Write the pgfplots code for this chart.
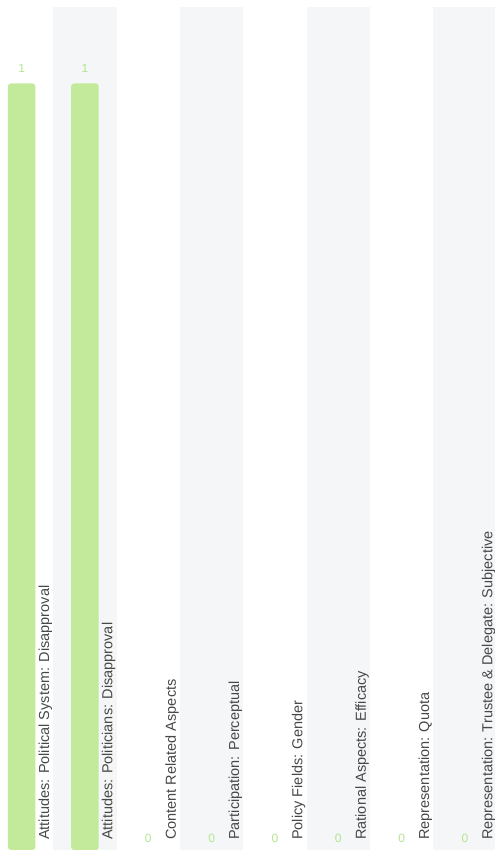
\documentclass[border=0pt]{standalone}
\usepackage{fontspec}
\setmainfont{Liberation Sans}
\usepackage{pgfplots}
\usepackage{pgfplotstable}
\pgfplotsset{compat=1.18}
\definecolor{bargreen}{HTML}{C3E99B}
\definecolor{valgreen}{HTML}{B3E58F}
\definecolor{band}{HTML}{F5F6F8}
\definecolor{lab}{HTML}{484848}
\pgfplotstableread{
x v
0 1
1 1
2 0
3 0
4 0
5 0
6 0
7 0
}\datatable
\tikzset{catlab/.style={rotate=90, anchor=base west, inner sep=0pt, text=lab,
        font=\fontsize{14.5bp}{17bp}\selectfont}}
\begin{document}
\begin{tikzpicture}
\begin{axis}[
  name=ax,
  width=495bp, height=850bp, scale only axis,
  xmin=-0.342, xmax=7.474,
  ymin=0.004, ymax=1.1085,
  axis lines=none, ticks=none,
  clip mode=individual,
]
\fill[band] (axis cs:0.5,0) rectangle (axis cs:1.5,1.1);
\fill[band] (axis cs:2.5,0) rectangle (axis cs:3.5,1.1);
\fill[band] (axis cs:4.5,0) rectangle (axis cs:5.5,1.1);
\fill[band] (axis cs:6.5,0) rectangle (axis cs:7.474,1.1);
\addplot[ybar, bar width=27.5bp, fill=bargreen, draw=none, rounded corners=3bp,
  restrict y to domain=0.5:2]
  table[x=x, y=v] {\datatable};
\addplot[draw=none, mark=none, point meta=\thisrow{v},
  nodes near coords={\pgfmathprintnumber[assume math mode=true]{\pgfplotspointmeta}},
  every node near coord/.append style={font=\fontsize{12bp}{14bp}\selectfont, text=valgreen, inner sep=0pt, anchor=south}]
  table[x=x, y expr=\thisrow{v}+0.0135] {\datatable};
\node[catlab] at ([xshift=27.5bp, yshift=10bp]axis cs:0,0.004) {Attitudes: Political System: Disapproval};
\node[catlab] at ([xshift=27.5bp, yshift=10bp]axis cs:1,0.004) {Attitudes: Politicians: Disapproval};
\node[catlab] at ([xshift=27.5bp, yshift=10bp]axis cs:2,0.004) {Content Related Aspects};
\node[catlab] at ([xshift=27.5bp, yshift=10bp]axis cs:3,0.004) {Participation: Perceptual};
\node[catlab] at ([xshift=27.5bp, yshift=10bp]axis cs:4,0.004) {Policy Fields: Gender};
\node[catlab] at ([xshift=27.5bp, yshift=10bp]axis cs:5,0.004) {Rational Aspects: Efficacy};
\node[catlab] at ([xshift=27.5bp, yshift=10bp]axis cs:6,0.004) {Representation: Quota};
\node[catlab] at ([xshift=27.5bp, yshift=10bp]axis cs:7,0.004) {Representation: Trustee \& Delegate: Subjective};
\end{axis}
\pgfresetboundingbox
\useasboundingbox (ax.south west) rectangle (ax.north east);
\end{tikzpicture}
\end{document}
